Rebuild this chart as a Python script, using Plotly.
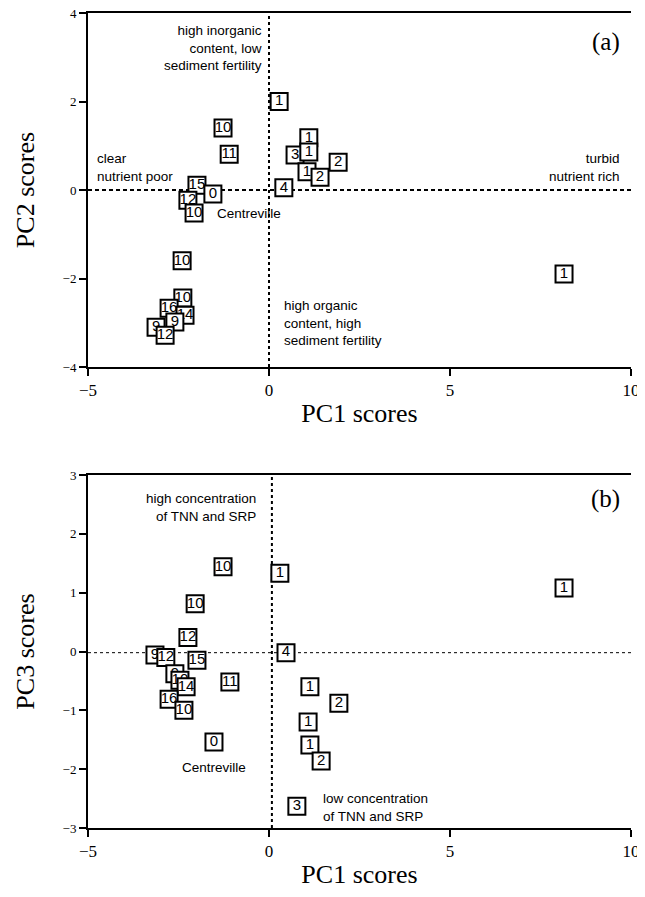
import plotly.graph_objects as go

# ---- data ----
# panel (a): PC1 vs PC2
a_labels = ["1", "10", "11", "1", "3", "1", "2", "1", "2", "4", "15", "12", "0", "10",
            "10", "10", "16", "14", "9", "9", "12", "1"]
a_pc1 = [0.28, -1.27, -1.10, 1.10, 0.72, 1.10, 1.91, 1.05, 1.41, 0.41, -1.99, -2.24, -1.55, -2.07,
         -2.40, -2.38, -2.76, -2.32, -2.60, -3.12, -2.87, 8.15]
a_pc2 = [2.00, 1.40, 0.81, 1.18, 0.79, 0.86, 0.63, 0.41, 0.29, 0.05, 0.11, -0.23, -0.09, -0.52,
         -1.60, -2.44, -2.67, -2.83, -2.98, -3.10, -3.28, -1.90]

# panel (b): PC1 vs PC3
b_labels = ["10", "1", "1", "10", "12", "9", "12", "15", "4", "9", "10", "14", "11",
            "1", "2", "1", "16", "10", "0", "1", "2", "3"]
b_pc1 = [-1.27, 0.30, 8.15, -2.04, -2.24, -3.15, -2.85, -1.99, 0.47, -2.60, -2.46, -2.29, -1.08,
         1.13, 1.93, 1.08, -2.76, -2.35, -1.52, 1.13, 1.44, 0.77]
b_pc3 = [1.44, 1.33, 1.08, 0.81, 0.24, -0.06, -0.10, -0.15, -0.02, -0.38, -0.49, -0.60, -0.52,
         -0.60, -0.88, -1.20, -0.81, -1.00, -1.54, -1.59, -1.86, -2.63]

x_ticks = [-5, 0, 5, 10]
a_yticks = [-4, -2, 0, 2, 4]
b_yticks = [-3, -2, -1, 0, 1, 2, 3]

SANS = "Liberation Sans, Arial, sans-serif"
SERIF = "Liberation Serif, Times New Roman, serif"

fig = go.Figure()

def add_boxes(xs, ys, labels, xa, ya):
    for x, y, t in zip(xs, ys, labels):
        fig.add_trace(go.Scatter(
            x=[x], y=[y], text=[t], mode="markers+text",
            marker=dict(symbol="square", size=17, color="white",
                        line=dict(color="black", width=2)),
            textposition="middle center",
            textfont=dict(family=SANS, size=15, color="black"),
            xaxis=xa, yaxis=ya, showlegend=False, hoverinfo="skip", cliponaxis=False))

# reference lines
fig.add_shape(type="line", xref="x", yref="y", x0=0, x1=0, y0=-4, y1=4,
              line=dict(color="black", width=2, dash="dot"), layer="below")
fig.add_shape(type="line", xref="x", yref="y", x0=-5, x1=10, y0=0, y1=0,
              line=dict(color="black", width=2, dash="4px,3px"), layer="below")
fig.add_shape(type="line", xref="x2", yref="y2", x0=0.08, x1=0.08, y0=-3, y1=3,
              line=dict(color="black", width=2, dash="dot"), layer="below")
fig.add_shape(type="line", xref="x2", yref="y2", x0=-5, x1=10, y0=-0.02, y1=-0.02,
              line=dict(color="black", width=1, dash="3px,3px"), layer="below")

add_boxes(a_pc1, a_pc2, a_labels, "x", "y")
add_boxes(b_pc1, b_pc3, b_labels, "x2", "y2")

axis_common = dict(showgrid=False, zeroline=False, showline=True, linecolor="black",
                   linewidth=2, ticks="outside", ticklen=7, tickwidth=2, tickcolor="black",
                   automargin=False, ticklabeloverflow="allow")

TITLE_FONT = dict(family=SERIF, size=26, color="black")

fig.update_layout(
    width=637, height=889,
    margin=dict(l=80, r=14, t=5, b=69),
    paper_bgcolor="white", plot_bgcolor="white",
    xaxis=dict(domain=[0, 1], range=[-5, 10], tickvals=x_ticks, anchor="y", mirror=True,
               tickfont=dict(family=SERIF, size=17, color="black"),
               title=dict(text="PC1 scores", font=TITLE_FONT, standoff=4),
               **axis_common),
    yaxis=dict(domain=[0.5656, 1], range=[-4, 4], tickvals=a_yticks, anchor="x",
               tickfont=dict(family=SERIF, size=13, color="black"),
               title=dict(text="PC2 scores", font=TITLE_FONT, standoff=20),
               **axis_common),
    xaxis2=dict(domain=[0, 1], range=[-5, 10], tickvals=x_ticks, anchor="y2", mirror=True,
                tickfont=dict(family=SERIF, size=17, color="black"),
                title=dict(text="PC1 scores", font=TITLE_FONT, standoff=4),
                **axis_common),
    yaxis2=dict(domain=[0, 0.4331], range=[-3, 3], tickvals=b_yticks, anchor="x2",
                tickfont=dict(family=SERIF, size=13, color="black"),
                title=dict(text="PC3 scores", font=TITLE_FONT, standoff=20),
                **axis_common),
)

def note(text, x, y, xa, ya, align, xanchor, size=13.5):
    fig.add_annotation(text=text, x=x, y=y, xref=xa, yref=ya, showarrow=False,
                       align=align, xanchor=xanchor, yanchor="middle",
                       font=dict(family=SANS, size=size, color="black"))

# panel (a) notes
note("high inorganic<br>content, low<br>sediment fertility", -0.15, 3.2, "x", "y", "right", "right")
note("clear<br>nutrient poor", -4.8, 0.5, "x", "y", "left", "left")
note("turbid<br>nutrient rich", 9.75, 0.5, "x", "y", "right", "right")
note("high organic<br>content, high<br>sediment fertility", 0.35, -3.0, "x", "y", "left", "left")
note("Centreville", -0.55, -0.52, "x", "y", "center", "center")
fig.add_annotation(text="(a)", x=9.3, y=3.35, xref="x", yref="y", showarrow=False,
                   xanchor="center", yanchor="middle", font=dict(family=SERIF, size=25, color="black"))

# panel (b) notes
note("high concentration<br>of TNN and SRP", -0.3, 2.45, "x2", "y2", "right", "right")
note("Centreville", -1.52, -1.98, "x2", "y2", "center", "center")
note("low concentration<br>of TNN and SRP", 1.45, -2.65, "x2", "y2", "left", "left")
fig.add_annotation(text="(b)", x=9.3, y=2.6, xref="x2", yref="y2", showarrow=False,
                   xanchor="center", yanchor="middle", font=dict(family=SERIF, size=25, color="black"))

fig.write_html("out.html")
